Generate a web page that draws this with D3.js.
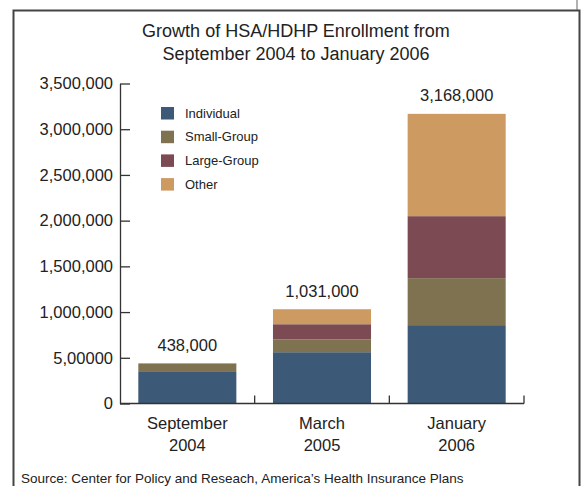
<!DOCTYPE html>
<html>
<head>
<meta charset="utf-8">
<script src="https://cdn.jsdelivr.net/npm/d3@7"></script>
<style>
  html, body { margin: 0; padding: 0; background: #fff; }
  svg { display: block; font-family: "Liberation Sans", Arial, Helvetica, sans-serif; }
</style>
</head>
<body>
<svg id="chart" width="582" height="486"></svg>
<script>
// Enrollment periods (two-line labels)
const categories = ["September 2004", "March 2005", "January 2006"];
const categoryLines = [["September", "2004"], ["March", "2005"], ["January", "2006"]];

// Market segments, bottom to top
const segments = ["Individual", "Small-Group", "Large-Group", "Other"];
const individual = [345000, 561000, 857000];
const smallGroup = [88000, 139000, 514000];
const largeGroup = [5000, 167000, 678000];
const other      = [0, 164000, 1119000];
const totals     = [438000, 1031000, 3168000];

// Y axis ticks and their printed labels
const yTicks = [0, 500000, 1000000, 1500000, 2000000, 2500000, 3000000, 3500000];
const yTickLabels = ["0", "5,00000", "1,000,000", "1,500,000", "2,000,000", "2,500,000", "3,000,000", "3,500,000"];

const colors = ["#3c5a77", "#7f7251", "#7b4a53", "#cd9a62"];

const rows = categories.map((c, i) => ({
  category: c,
  "Individual": individual[i],
  "Small-Group": smallGroup[i],
  "Large-Group": largeGroup[i],
  "Other": other[i]
}));

const svg = d3.select("#chart");
const textColor = "#222";

// Outer frame
svg.append("path")
  .attr("d", "M13.5,492 V10.5 H579.5 V492")
  .attr("fill", "none").attr("stroke", "#444").attr("stroke-width", 2);
svg.append("line")
  .attr("x1", 577).attr("x2", 577).attr("y1", 0).attr("y2", 10)
  .attr("stroke", "#666").attr("stroke-width", 1);

// Title
const title = svg.append("text")
  .attr("text-anchor", "middle").attr("fill", textColor)
  .style("font-size", "18px");
title.append("tspan").attr("x", 296).attr("y", 36.5).text("Growth of HSA/HDHP Enrollment from");
title.append("tspan").attr("x", 296).attr("y", 59.5).text("September 2004 to January 2006");

// Scales
const x = d3.scaleBand().domain(categories).range([120, 524]).padding(0);
const y = d3.scaleLinear().domain([0, 3500000]).range([403.5, 83.5]);
const color = d3.scaleOrdinal().domain(segments).range(colors);

const barInset = x.bandwidth() * 0.136;
const barWidth = x.bandwidth() * 0.728;

// Stacked bars
const stacked = d3.stack().keys(segments)(rows);
svg.append("g").selectAll("g")
  .data(stacked)
  .join("g")
  .attr("fill", d => color(d.key))
  .selectAll("rect")
  .data(d => d)
  .join("rect")
  .attr("x", d => x(d.data.category) + barInset)
  .attr("width", barWidth)
  .attr("y", d => y(d[1]))
  .attr("height", d => y(d[0]) - y(d[1]));

// Y axis with inward ticks
const yAxis = d3.axisLeft(y)
  .tickValues(yTicks)
  .tickFormat((d, i) => yTickLabels[i])
  .tickSizeInner(-10)
  .tickSizeOuter(0)
  .tickPadding(7);
const gy = svg.append("g").attr("transform", "translate(120,0)").call(yAxis);
gy.select(".domain").attr("stroke", "#333").attr("stroke-width", 1.3);
gy.selectAll(".tick line").attr("stroke", "#333").attr("stroke-width", 1.3);
gy.selectAll(".tick text")
  .attr("fill", textColor)
  .style("font-size", "16.5px")
  .style("font-family", "'Liberation Sans', Arial, Helvetica, sans-serif");

// X axis baseline with upward ticks at band boundaries
const gx = svg.append("g");
gx.append("line")
  .attr("x1", x.range()[0]).attr("x2", x.range()[1])
  .attr("y1", y(0)).attr("y2", y(0))
  .attr("stroke", "#333").attr("stroke-width", 1.3);
gx.selectAll("line.tick")
  .data(categories)
  .join("line")
  .attr("class", "tick")
  .attr("x1", d => x(d) + x.bandwidth()).attr("x2", d => x(d) + x.bandwidth())
  .attr("y1", y(0)).attr("y2", y(0) - 8)
  .attr("stroke", "#333").attr("stroke-width", 1.3);

// Category labels
const labels = gx.selectAll("text.cat")
  .data(categories)
  .join("text")
  .attr("class", "cat")
  .attr("text-anchor", "middle")
  .attr("fill", textColor)
  .style("font-size", "16.5px");
labels.each(function (d, i) {
  const cx = x(d) + x.bandwidth() / 2;
  categoryLines[i].forEach((line, j) => {
    d3.select(this).append("tspan").attr("x", cx).attr("y", 429 + j * 22).text(line);
  });
});

// Totals above bars
svg.append("g").selectAll("text")
  .data(categories)
  .join("text")
  .attr("x", d => x(d) + x.bandwidth() / 2)
  .attr("y", (d, i) => y(totals[i]) - 12.5)
  .attr("text-anchor", "middle")
  .attr("fill", textColor)
  .style("font-size", "16.5px")
  .text((d, i) => d3.format(",")(totals[i]));

// Legend
const legend = svg.append("g").attr("transform", "translate(161,107)");
const item = legend.selectAll("g")
  .data(segments)
  .join("g")
  .attr("transform", (d, i) => `translate(0,${i * 23.7})`);
item.append("rect")
  .attr("width", 13).attr("height", 12.5)
  .attr("fill", d => color(d));
item.append("text")
  .attr("x", 24).attr("y", 10.5)
  .attr("fill", textColor)
  .style("font-size", "13px")
  .text(d => d);

// Source note
svg.append("text")
  .attr("x", 21).attr("y", 483.3)
  .attr("fill", textColor)
  .style("font-size", "13.5px")
  .text("Source: Center for Policy and Reseach, America\u2019s Health Insurance Plans");
</script>
</body>
</html>
